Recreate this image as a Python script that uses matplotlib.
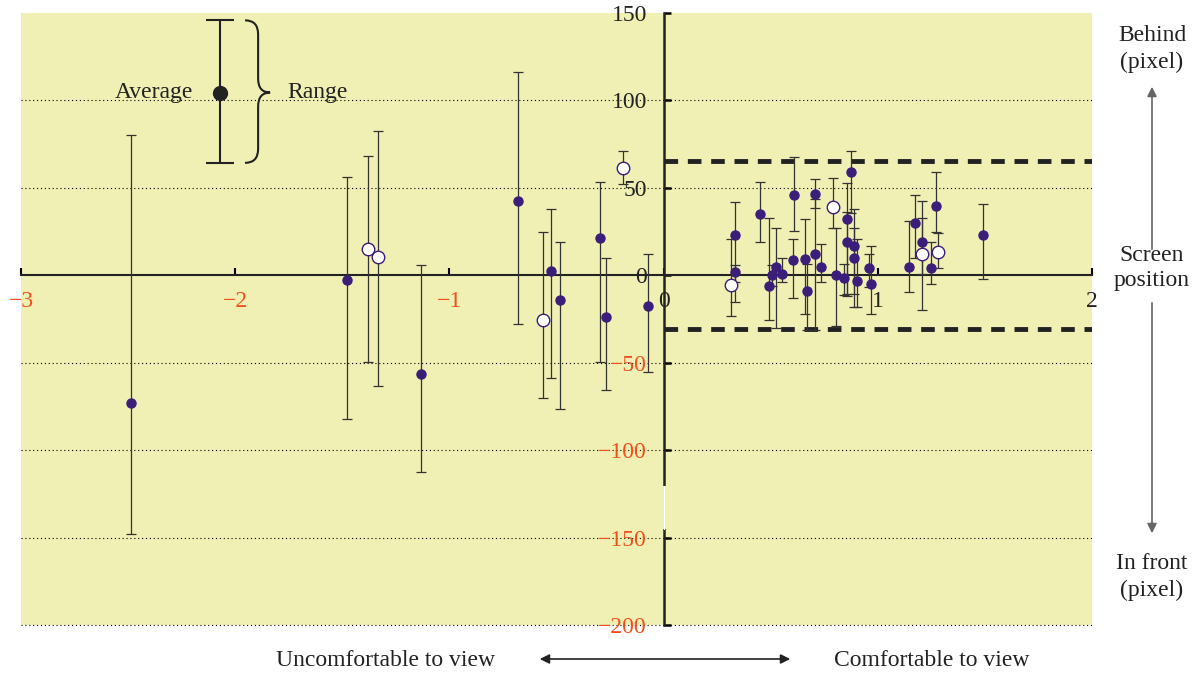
import numpy as np
import matplotlib
matplotlib.use("Agg")
import matplotlib.pyplot as plt
from matplotlib.path import Path
from matplotlib.patches import PathPatch, Rectangle

plt.rcParams['font.family'] = ['Liberation Serif', 'DejaVu Serif']

# subjects shown with filled markers: comfort score, average, min, max (pixel)
filled_x = [-2.485, -1.477, -1.131, -0.682, -0.526, -0.482, -0.296, -0.271, -0.075,
            0.334, 0.334, 0.448, 0.491, 0.504, 0.526, 0.555, 0.602, 0.607, 0.658,
            0.671, 0.705, 0.705, 0.733, 0.807, 0.843, 0.855, 0.855, 0.874, 0.888,
            0.888, 0.902, 0.958, 0.967, 1.146, 1.173, 1.206, 1.248, 1.271, 1.493]
filled_avg = [-73, -2.5, -56.5, 42.3, 2.3, -14.2, 21.4, -23.7, -17.4,
              22.8, 2, 35.2, -5.9, 0, 4.6, 0.8, 9.0, 45.7, 9.2,
              -8.8, 46.3, 11.9, 5, 0, -1.7, 32, 19, 58.9, 17,
              10, -3.2, 4.4, -4.8, 5, 30, 19.1, 4.2, 39.4, 22.8]
filled_lo = [-148, -82, -112.5, -27.8, -58.6, -76.2, -49.6, -65.8, -55.3,
             -15, -4, 19.3, -25.4, -6, -30.2, -3.8, -12.8, 25.1, -22,
             -31.2, 38.6, -31.2, -3.6, -28.9, -11.5, -10.7, -12, 35.8, -18.4,
             -10.7, -18.4, -6.9, -22, -9.4, 10, 1, -4.8, 24.9, -2.3]
filled_hi = [80, 56, 5.6, 116.4, 37.7, 19.1, 53.6, 10, 12.2,
             42, 6, 53.6, 32.9, 6, 27.1, 10.1, 20.5, 67.7, 32,
             6.7, 54.9, 43.4, 18, 27.1, 6.5, 52.5, 36, 70.8, 37.7,
             27.1, 20.5, 12.3, 16.9, 31, 45.7, 32.9, 19.3, 59.3, 40.9]

# subjects shown with open markers
open_x = [-1.380, -1.334, -0.562, -0.190, 0.315, 0.793, 1.206, 1.279]
open_avg = [15.3, 10.5, -25.8, 61.2, -5.4, 39.2, 11.9, 13.2]
open_lo = [-49.6, -63.3, -70.4, 52.4, -23, 27.1, -19.7, 4.2]
open_hi = [68.5, 82.3, 24.9, 71, 20.5, 55.9, 42.5, 23.9]

# comfortable zone limits
zone_top = 65.4
zone_bottom = -31

x_ticks = [-3, -2, -1, 0, 1, 2]
y_ticks = [150, 100, 50, 0, -50, -100, -150, -200]
grid_vals = [100, 50, -50, -100, -150, -200]

BG = '#F0EFB4'
DOT = '#3B1D7A'
ORANGE = '#F0501E'
INK = '#222222'

fig = plt.figure(figsize=(12.01, 6.74), dpi=100)
ax = fig.add_axes([21 / 1201, 1 - 625 / 674, 1071 / 1201, 612 / 674])
ax.set_facecolor(BG)
ax.set_xlim(-3, 2)
ax.set_ylim(-200, 150)

# axes cross at the origin
for side in ['top', 'right']:
    ax.spines[side].set_visible(False)
ax.spines['left'].set_position(('data', 0))
ax.spines['bottom'].set_position(('data', 0))
ax.spines['left'].set_linewidth(1.8)
ax.spines['bottom'].set_linewidth(1.5)
ax.spines['left'].set_color(INK)
ax.spines['bottom'].set_color(INK)

ax.set_xticks(x_ticks)
ax.set_yticks(y_ticks)
ax.set_xticklabels([str(v).replace('-', '\u2212') for v in x_ticks])
ax.set_yticklabels([str(v).replace('-', '\u2212') for v in y_ticks])
ax.tick_params(axis='x', direction='in', length=5, width=1.5, pad=11, labelsize=17)
ax.tick_params(axis='y', direction='in', length=5, width=1.8, pad=12, labelsize=17)
for lab, v in zip(ax.get_xticklabels(), x_ticks):
    lab.set_color(ORANGE if v < 0 else INK)
for lab, v in zip(ax.get_yticklabels(), y_ticks):
    lab.set_color(ORANGE if v < 0 else INK)

# break in the vertical axis
ax.add_patch(Rectangle((-0.012, -145), 0.024, 24.5, facecolor=BG, edgecolor='none', zorder=3))
ax.plot([0, 0], [-145, -120.5], color='white', lw=0.8, zorder=3.1)

for g in grid_vals:
    ax.axhline(g, color='black', lw=0.8, linestyle=(0, (1, 2.5)), zorder=1, clip_on=False)

ax.plot([0, 2], [zone_top, zone_top], color=INK, lw=3.5, dashes=(2.8, 2.0), zorder=2)
ax.plot([0, 2], [zone_bottom, zone_bottom], color=INK, lw=3.5, dashes=(2.8, 2.0), zorder=2)

fx = np.array(filled_x)
fa = np.array(filled_avg)
ax.errorbar(fx, fa, yerr=[fa - np.array(filled_lo), np.array(filled_hi) - fa],
            fmt='none', ecolor='#333333', elinewidth=0.9, capsize=3.5, capthick=0.9, zorder=4)
ax.plot(fx, fa, 'o', color=DOT, markersize=6.5, zorder=5)

ox = np.array(open_x)
oa = np.array(open_avg)
ax.errorbar(ox, oa, yerr=[oa - np.array(open_lo), np.array(open_hi) - oa],
            fmt='none', ecolor='#333333', elinewidth=0.9, capsize=3.5, capthick=0.9, zorder=4)
ax.plot(ox, oa, 'o', markerfacecolor='white', markeredgecolor=DOT, markeredgewidth=1,
        markersize=9, zorder=5)

# key: average with range bracket
key_x, key_avg, key_lo, key_hi = -2.073, 104.5, 64.3, 145.8
ax.errorbar([key_x], [key_avg], yerr=[[key_avg - key_lo], [key_hi - key_avg]], fmt='o',
            color=INK, markersize=10, elinewidth=1.5, capsize=10, capthick=1.5, zorder=5)
x0, xm, xt, d = -1.954, -1.893, -1.837, 8
brace = Path([(x0, key_hi), (xm, key_hi), (xm, key_hi - d),
              (xm, key_avg + d), (xm, key_avg), (xt, key_avg),
              (xm, key_avg), (xm, key_avg - d),
              (xm, key_lo + d), (xm, key_lo), (x0, key_lo)],
             [Path.MOVETO, Path.CURVE3, Path.CURVE3,
              Path.LINETO, Path.CURVE3, Path.CURVE3,
              Path.CURVE3, Path.CURVE3,
              Path.LINETO, Path.CURVE3, Path.CURVE3])
ax.add_patch(PathPatch(brace, facecolor='none', edgecolor=INK, lw=1.5, zorder=5))
ax.text(-2.197, key_avg, 'Average', ha='right', va='center', fontsize=17, color=INK)
ax.text(-1.758, key_avg, 'Range', ha='left', va='center', fontsize=17, color=INK)

# screen position scale on the right
rx = 1152 / 1201
fig.text(rx, 1 - 49 / 674, 'Behind\n(pixel)', ha='center', va='center', fontsize=17,
         color=INK, linespacing=1.3)
fig.text(rx, 1 - 268 / 674, 'Screen\nposition', ha='center', va='center', fontsize=17,
         color=INK, linespacing=1.3)
fig.text(rx, 1 - 577 / 674, 'In front\n(pixel)', ha='center', va='center', fontsize=17,
         color=INK, linespacing=1.3)
fig.add_artist(matplotlib.patches.FancyArrowPatch((rx, 1 - 252 / 674), (rx, 1 - 84 / 674),
               transform=fig.transFigure, arrowstyle='-|>', mutation_scale=14,
               color='#666666', lw=1.2))
fig.add_artist(matplotlib.patches.FancyArrowPatch((rx, 1 - 300 / 674), (rx, 1 - 536 / 674),
               transform=fig.transFigure, arrowstyle='-|>', mutation_scale=14,
               color='#666666', lw=1.2))

# comfort direction along the bottom
by = 1 - 660 / 674
fig.text(385 / 1201, by, 'Uncomfortable to view', ha='center', va='center', fontsize=17,
         color=INK)
fig.text(932 / 1201, by, 'Comfortable to view', ha='center', va='center', fontsize=17,
         color=INK)
fig.add_artist(matplotlib.patches.FancyArrowPatch((537 / 1201, 1 - 659 / 674),
               (793 / 1201, 1 - 659 / 674),
               transform=fig.transFigure, arrowstyle='<|-|>', mutation_scale=14,
               color=INK, lw=1.2))

fig.savefig('out.png', dpi=100, facecolor='white')
